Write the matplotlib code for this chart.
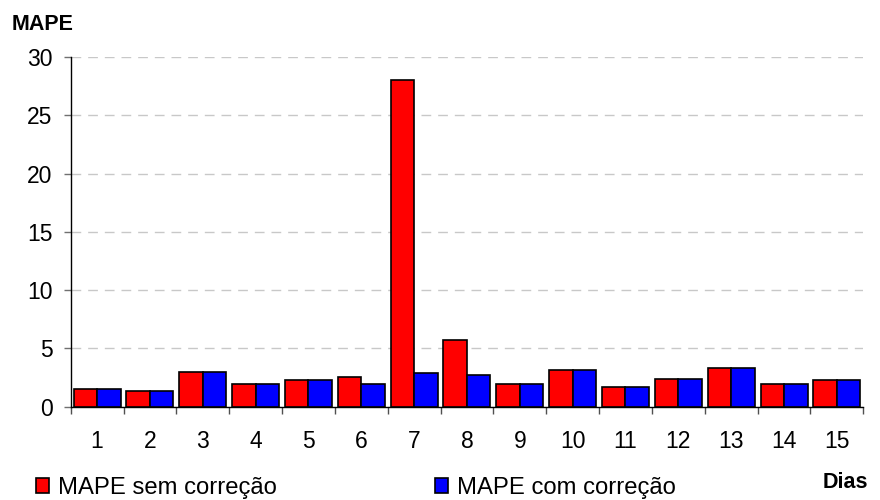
import matplotlib.pyplot as plt
import numpy as np
from matplotlib.patches import Patch

plt.rcParams['font.family'] = ['Liberation Sans', 'DejaVu Sans']

dias = list(range(1, 16))
mape_sem = [1.5, 1.35, 3.0, 1.95, 2.25, 2.55, 28.0, 5.75, 1.95, 3.15, 1.65, 2.4, 3.3, 1.95, 2.25]
mape_com = [1.5, 1.35, 3.0, 1.95, 2.25, 1.95, 2.9, 2.7, 1.95, 3.15, 1.65, 2.4, 3.3, 1.95, 2.25]

fig = plt.figure(figsize=(8.8, 5), dpi=100)
ax = fig.add_axes([0.0803, 0.1866, 0.9007, 0.6994])

x = np.array(dias)
w = 0.445
ax.bar(x - w / 2, mape_sem, width=w, color='#ff0000', edgecolor='black', linewidth=1.2, zorder=3)
ax.bar(x + w / 2, mape_com, width=w, color='#0000ff', edgecolor='black', linewidth=1.2, zorder=3)

ax.set_xlim(0.5, 15.5)
ax.set_ylim(0, 30)
ax.set_yticks(range(0, 31, 5))
ax.yaxis.grid(True, color='#c8c8c8', linestyle=(0, (7, 5)), linewidth=1)
ax.set_axisbelow(True)

# boundary ticks between days, labels centred under each day
ax.set_xticks(np.arange(0.5, 16, 1))
ax.set_xticklabels([])
ax.set_xticks(x, minor=True)
ax.set_xticklabels([str(d) for d in dias], minor=True)
ax.tick_params(axis='x', which='major', length=5, width=1, color='#505050')
ax.tick_params(axis='x', which='minor', length=0, pad=16.5, labelsize=16.5)
ax.tick_params(axis='y', length=5, width=1, color='#707070', labelsize=16.5, pad=8)

for s in ['top', 'right']:
    ax.spines[s].set_visible(False)
for s in ['left', 'bottom']:
    ax.spines[s].set_color('black')
    ax.spines[s].set_linewidth(1)

fig.text(12 / 880, 1 - 24.5 / 500, 'MAPE', fontsize=15.5, fontweight='bold', va='center', ha='left')
fig.text(868 / 880, 1 - 482.5 / 500, 'Dias', fontsize=15.5, fontweight='bold', va='center', ha='right')

handles = [Patch(facecolor='#ff0000', edgecolor='black', linewidth=1.2, label='MAPE sem correção'),
           Patch(facecolor='#0000ff', edgecolor='black', linewidth=1.2, label='MAPE com correção')]
fig.legend(handles=handles, loc='center left', bbox_to_anchor=(36 / 880, 1 - 488 / 500), ncol=2,
           frameon=False, fontsize=17.2, handlelength=0.55, handleheight=0.55,
           handletextpad=0.38, columnspacing=6.6, borderpad=0, borderaxespad=0)

fig.savefig('out.png', dpi=100)
